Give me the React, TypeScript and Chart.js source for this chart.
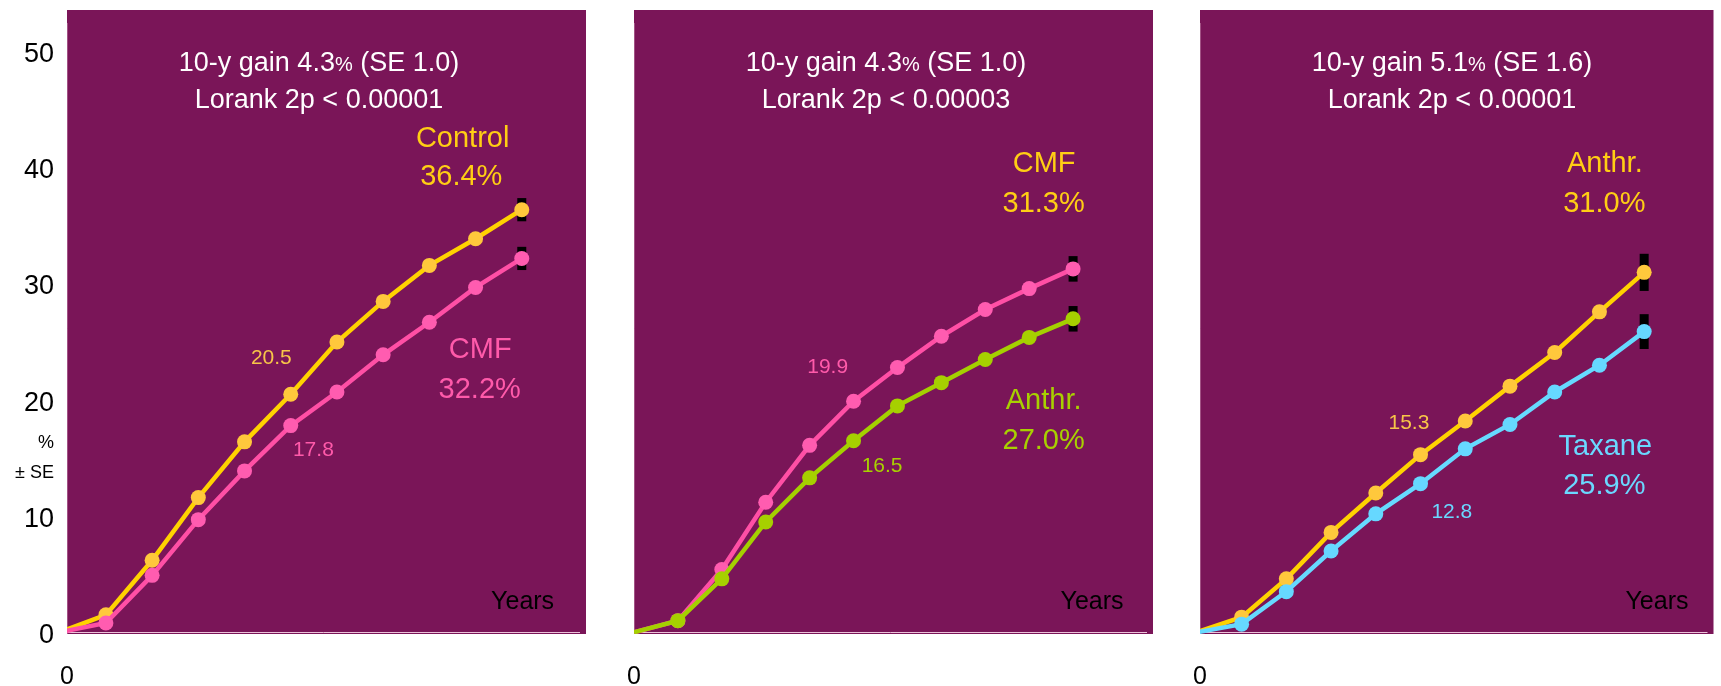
import React, { useEffect, useRef } from "react";
import { Chart, registerables } from "chart.js";

Chart.register(...registerables);

// ---------- data ----------
const YEARS = [0, 1, 2, 3, 4, 5, 6, 7, 8, 9, 10];
const Y_TICKS = [0, 10, 20, 30, 40, 50];

const P1_CONTROL = [0, 1.5, 6.2, 11.6, 16.4, 20.5, 25.0, 28.5, 31.6, 33.9, 36.4];
const P1_CMF = [0, 0.8, 4.9, 9.7, 13.9, 17.8, 20.7, 23.9, 26.7, 29.7, 32.2];
const P2_CMF = [0, 1.0, 5.4, 11.2, 16.1, 19.9, 22.8, 25.5, 27.8, 29.6, 31.3];
const P2_ANTHR = [0, 1.0, 4.6, 9.5, 13.3, 16.5, 19.5, 21.5, 23.5, 25.4, 27.0];
const P3_ANTHR = [0, 1.3, 4.6, 8.6, 12.0, 15.3, 18.2, 21.2, 24.1, 27.6, 31.0];
const P3_TAXANE = [0, 0.7, 3.5, 7.0, 10.2, 12.8, 15.8, 17.9, 20.7, 23.0, 25.9];

const SE_P1 = [1.0, 1.0];
const SE_P2 = [1.1, 1.1];
const SE_P3 = [1.5, 1.6];

const GAINS = ["4.3", "4.3", "5.1"];
const GAIN_SE = ["1.0", "1.0", "1.6"];
const LOGRANK_P = ["0.00001", "0.00003", "0.00001"];

// ---------- styles ----------
const FONT = "'Liberation Sans', Arial, Helvetica, sans-serif";
const BG = "#7A1558";
const YELLOW_LINE = "#FFD200";
const YELLOW_PT = "#FFC83C";
const YELLOW_TXT = "#FFCE14";
const YELLOW_SMALL = "#F7C548";
const PINK_LINE = "#FF4FA5";
const PINK_PT = "#FF5CB0";
const PINK_TXT = "#FF5AAA";
const GREEN_LINE = "#A4D000";
const GREEN_PT = "#A6D000";
const GREEN_TXT = "#A8D000";
const CYAN_LINE = "#66DAFF";
const CYAN_PT = "#66D8FF";
const CYAN_TXT = "#6AD8FF";

interface Series { data: number[]; line: string; point: string; se: number }
interface Label { text: string; x: number; y: number; color: string; size: number }
interface PanelDef {
  left: number;
  width: number;
  padLeft: number;
  padRight: number;
  showY: boolean;
  xMin: number;
  xMax: number;
  idx: number;
  series: Series[];
  labels: Label[];
  yearsX: number;
}

const PANELS: PanelDef[] = [
  {
    left: 0, width: 600, padLeft: 0, padRight: 14, showY: true, xMin: 0.158, xMax: 11.39, idx: 0,
    series: [
      { data: P1_CMF, line: PINK_LINE, point: PINK_PT, se: SE_P1[1] },
      { data: P1_CONTROL, line: YELLOW_LINE, point: YELLOW_PT, se: SE_P1[0] },
    ],
    labels: [
      { text: "Control", x: 8.72, y: 42.5, color: YELLOW_TXT, size: 29 },
      { text: "36.4%", x: 8.69, y: 39.2, color: YELLOW_TXT, size: 29 },
      { text: "CMF", x: 9.1, y: 24.3, color: PINK_TXT, size: 29 },
      { text: "32.2%", x: 9.09, y: 20.9, color: PINK_TXT, size: 29 },
      { text: "20.5", x: 4.58, y: 23.6, color: YELLOW_SMALL, size: 21 },
      { text: "17.8", x: 5.49, y: 15.7, color: PINK_TXT, size: 21 },
    ],
    yearsX: 10.7,
  },
  {
    left: 600, width: 580, padLeft: 34, padRight: 27, showY: false, xMin: 0, xMax: 11.82, idx: 1,
    series: [
      { data: P2_ANTHR, line: GREEN_LINE, point: GREEN_PT, se: SE_P2[1] },
      { data: P2_CMF, line: PINK_LINE, point: PINK_PT, se: SE_P2[0] },
    ],
    labels: [
      { text: "CMF", x: 9.34, y: 40.3, color: YELLOW_TXT, size: 29 },
      { text: "31.3%", x: 9.33, y: 36.9, color: YELLOW_TXT, size: 29 },
      { text: "Anthr.", x: 9.33, y: 19.9, color: GREEN_TXT, size: 29 },
      { text: "27.0%", x: 9.33, y: 16.5, color: GREEN_TXT, size: 29 },
      { text: "19.9", x: 4.41, y: 22.8, color: PINK_TXT, size: 21 },
      { text: "16.5", x: 5.65, y: 14.3, color: GREEN_TXT, size: 21 },
    ],
    yearsX: 11.15,
  },
  {
    left: 1180, width: 541, padLeft: 20, padRight: 2, showY: false, xMin: 0.07, xMax: 11.55, idx: 2,
    series: [
      { data: P3_TAXANE, line: CYAN_LINE, point: CYAN_PT, se: SE_P3[0] },
      { data: P3_ANTHR, line: YELLOW_LINE, point: YELLOW_PT, se: SE_P3[1] },
    ],
    labels: [
      { text: "Anthr.", x: 9.12, y: 40.3, color: YELLOW_TXT, size: 29 },
      { text: "31.0%", x: 9.11, y: 36.9, color: YELLOW_TXT, size: 29 },
      { text: "Taxane", x: 9.13, y: 16.0, color: CYAN_TXT, size: 29 },
      { text: "25.9%", x: 9.11, y: 12.6, color: CYAN_TXT, size: 29 },
      { text: "15.3", x: 4.74, y: 18.0, color: YELLOW_SMALL, size: 21 },
      { text: "12.8", x: 5.7, y: 10.3, color: CYAN_TXT, size: 21 },
    ],
    yearsX: 10.99,
  },
];

function drawParts(ctx: CanvasRenderingContext2D, cx: number, baseline: number, parts: { t: string; size: number }[], color: string) {
  let total = 0;
  const widths = parts.map((p) => {
    ctx.font = `${p.size}px ${FONT}`;
    const w = ctx.measureText(p.t).width;
    total += w;
    return w;
  });
  let x = cx - total / 2;
  ctx.fillStyle = color;
  ctx.textAlign = "left";
  ctx.textBaseline = "alphabetic";
  parts.forEach((p, i) => {
    ctx.font = `${p.size}px ${FONT}`;
    ctx.fillText(p.t, x, baseline);
    x += widths[i];
  });
}

function Panel({ def }: { def: PanelDef }) {
  const ref = useRef<HTMLCanvasElement | null>(null);

  useEffect(() => {
    if (!ref.current) return;
    const d = def;
    const plugin = {
      id: "panelDeco" + d.idx,
      beforeDraw(chart: any) {
        const { ctx, chartArea: a } = chart;
        ctx.save();
        ctx.fillStyle = BG;
        ctx.fillRect(a.left, a.top, a.right - a.left, a.bottom - a.top);
        ctx.strokeStyle = "rgba(255,225,240,0.85)";
        ctx.lineWidth = 1;
        ctx.beginPath();
        ctx.moveTo(a.left, a.bottom - 1.5);
        ctx.lineTo(a.right - 6, a.bottom - 1.5);
        ctx.stroke();
        ctx.strokeStyle = "rgba(255,225,240,0.3)";
        ctx.beginPath();
        ctx.moveTo(a.left + 0.5, a.top + 13);
        ctx.lineTo(a.left + 0.5, a.bottom);
        ctx.stroke();
        ctx.restore();
      },
      beforeDatasetsDraw(chart: any) {
        const { ctx, scales } = chart;
        ctx.save();
        ctx.strokeStyle = "#000";
        ctx.lineWidth = 9;
        ctx.lineCap = "butt";
        d.series.forEach((s) => {
          const last = s.data[s.data.length - 1];
          const x = scales.x.getPixelForValue(YEARS[YEARS.length - 1]);
          ctx.beginPath();
          ctx.moveTo(x, scales.y.getPixelForValue(last + s.se));
          ctx.lineTo(x, scales.y.getPixelForValue(last - s.se));
          ctx.stroke();
        });
        ctx.restore();
      },
      afterDatasetsDraw(chart: any) {
        const { ctx, chartArea: a, scales } = chart;
        ctx.save();
        const cx = a.left + 252;
        drawParts(ctx, cx, a.top + 61, [
          { t: `10-y gain ${GAINS[d.idx]}`, size: 27 },
          { t: "%", size: 20 },
          { t: ` (SE ${GAIN_SE[d.idx]})`, size: 27 },
        ], "#FFFFFF");
        drawParts(ctx, cx, a.top + 98, [{ t: `Lorank 2p < ${LOGRANK_P[d.idx]}`, size: 27 }], "#FFFFFF");

        ctx.textAlign = "center";
        ctx.textBaseline = "middle";
        d.labels.forEach((l) => {
          ctx.font = `${l.size}px ${FONT}`;
          ctx.fillStyle = l.color;
          ctx.fillText(l.text, scales.x.getPixelForValue(l.x), scales.y.getPixelForValue(l.y));
        });

        ctx.font = `25px ${FONT}`;
        ctx.fillStyle = "#000";
        ctx.textAlign = "right";
        ctx.fillText("Years", scales.x.getPixelForValue(d.yearsX), scales.y.getPixelForValue(2.6));

        if (d.showY) {
          ctx.font = `18px ${FONT}`;
          ctx.textAlign = "right";
          ctx.fillText("%", 54, scales.y.getPixelForValue(16.3));
          ctx.fillText("\u00B1 SE", 54, scales.y.getPixelForValue(13.7));
        }
        ctx.restore();
      },
    };

    const chart = new Chart(ref.current, {
      type: "line",
      data: {
        datasets: d.series.map((s) => ({
          data: YEARS.map((x, i) => ({ x, y: s.data[i] })),
          borderColor: s.line,
          backgroundColor: s.point,
          borderWidth: 4.5,
          pointBackgroundColor: s.point,
          pointBorderColor: s.point,
          pointBorderWidth: 0,
          pointRadius: YEARS.map((y) => (y === 0 ? 0 : 7.5)),
          pointHoverRadius: YEARS.map((y) => (y === 0 ? 0 : 7.5)),
          tension: 0,
          fill: false,
          clip: 0,
        })),
      },
      options: {
        animation: false,
        responsive: false,
        devicePixelRatio: 1,
        events: [],
        layout: { padding: { left: d.padLeft, right: d.padRight, top: 10, bottom: 0 } },
        plugins: { legend: { display: false }, tooltip: { enabled: false }, title: { display: false } },
        scales: {
          x: {
            type: "linear",
            min: d.xMin,
            max: d.xMax,
            afterBuildTicks: (s: any) => {
              s.ticks = [{ value: s.min }];
            },
            ticks: {
              callback: () => "0",
              color: "#000",
              font: { size: 25, family: FONT },
              padding: 28,
              autoSkip: false,
              maxRotation: 0,
            },
            grid: { display: false, drawTicks: false },
            border: { display: false },
            afterFit: (s: any) => {
              s.height = 52;
              s.paddingLeft = 0;
              s.paddingRight = 0;
            },
          },
          y: {
            type: "linear",
            display: d.showY,
            min: -0.15,
            max: 53.6,
            afterBuildTicks: (s: any) => {
              s.ticks = Y_TICKS.map((v) => ({ value: v }));
            },
            ticks: { color: "#000", font: { size: 27, family: FONT }, padding: 13, labelOffset: 3 },
            grid: { display: false, drawTicks: false },
            border: { display: false },
            afterFit: (s: any) => {
              s.width = d.showY ? 67 : 0;
              s.paddingTop = 0;
              s.paddingBottom = 0;
            },
          },
        },
      },
      plugins: [plugin],
    } as any);
    return () => chart.destroy();
  }, [def]);

  return (
    <canvas
      ref={ref}
      width={def.width}
      height={686}
      style={{ position: "absolute", left: def.left, top: 0, width: def.width, height: 686 }}
    />
  );
}

export default function App() {
  return (
    <div style={{ position: "fixed", left: 0, top: 0, width: 1721, height: 686, background: "#fff", overflow: "hidden" }}>
      {PANELS.map((p) => (
        <Panel key={p.idx} def={p} />
      ))}
    </div>
  );
}
